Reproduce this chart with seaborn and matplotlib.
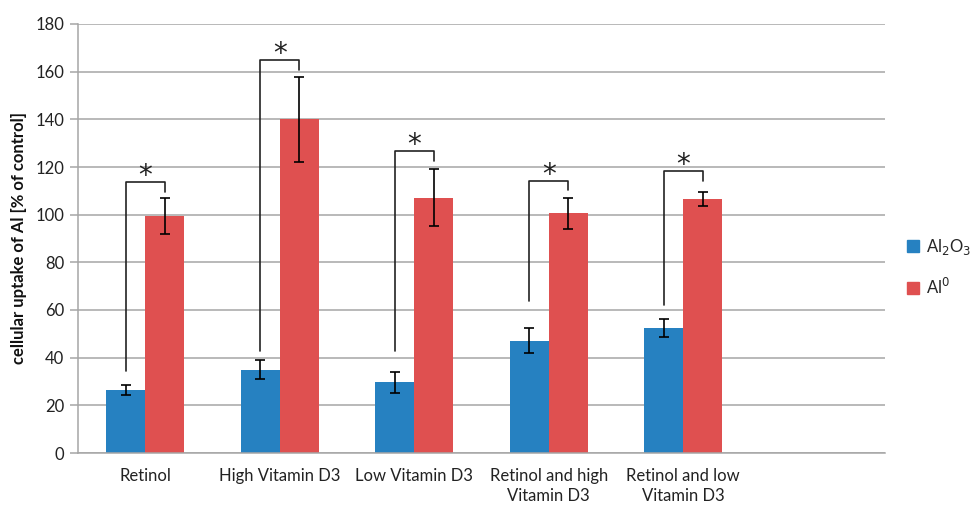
import matplotlib
matplotlib.use("Agg")
import matplotlib.pyplot as plt
import seaborn as sns
import pandas as pd
import numpy as np
from matplotlib.lines import Line2D

categories = ["Retinol", "High Vitamin D3", "Low Vitamin D3",
              "Retinol and high\nVitamin D3", "Retinol and low\nVitamin D3"]
series = ["Al$_2$O$_3$", "Al$^0$"]
al2o3_values = [26.5, 35.0, 29.6, 47.2, 52.4]
al2o3_err = [2.0, 4.0, 4.3, 5.2, 3.8]
al0_values = [99.4, 140.0, 107.1, 100.6, 106.6]
al0_err = [7.5, 17.8, 12.0, 6.5, 2.9]
# significance brackets: top, left foot, right foot (in % of control)
bracket_top = [113.8, 165.0, 126.7, 114.3, 118.5]
bracket_left = [34.4, 42.8, 42.8, 63.8, 62.1]
bracket_right = [109.6, 160.7, 122.5, 110.4, 114.1]

colors = ["#2681C1", "#DF5050"]

sns.set_style("white")
plt.rcParams['font.family'] = ['Lato', 'DejaVu Sans']

df = pd.DataFrame({
    "category": categories * 2,
    "series": [series[0]] * 5 + [series[1]] * 5,
    "value": al2o3_values + al0_values,
})

fig = plt.figure(figsize=(9.73, 5.05), dpi=100)
ax = fig.add_axes([78 / 973, 1 - 453 / 505, (885 - 78) / 973, (453 - 24) / 505])

sns.barplot(data=df, x="category", y="value", hue="series", order=categories,
            hue_order=series, palette=colors, width=0.58, errorbar=None,
            saturation=1, ax=ax, legend=False, zorder=2, linewidth=0)

# error bars using bar patch positions
patches = [p for p in ax.patches if p.get_height() > 0]
patches.sort(key=lambda p: p.get_x())
xs = [p.get_x() + p.get_width() / 2 for p in patches]
blue_x = xs[0::2]
red_x = xs[1::2]
ax.errorbar(blue_x, al2o3_values, yerr=al2o3_err, fmt="none", ecolor="black",
            elinewidth=1.2, capsize=3.5, capthick=1.2, zorder=3)
ax.errorbar(red_x, al0_values, yerr=al0_err, fmt="none", ecolor="black",
            elinewidth=1.2, capsize=3.5, capthick=1.2, zorder=3)

for bx, rx, t, l, r in zip(blue_x, red_x, bracket_top, bracket_left, bracket_right):
    ax.plot([bx, bx, rx, rx], [l, t, t, r], color="#222222", lw=1.2, zorder=4)
    ax.text((bx + rx) / 2, t - 3.5, "*", ha="center", va="bottom",
            fontsize=20, color="#222222", zorder=4, family="DejaVu Sans")

ax.set_xlim(-0.5, 5.5)
ax.set_ylim(0, 180)
ax.set_yticks(np.arange(0, 181, 20))
ax.yaxis.grid(True, color="#A6A6A6", lw=1.1, zorder=0)
ax.set_axisbelow(True)
for s in ["top", "right"]:
    ax.spines[s].set_visible(False)
ax.spines["left"].set_color("#A6A6A6")
ax.spines["bottom"].set_color("#A6A6A6")
ax.spines["left"].set_linewidth(1.1)
ax.spines["bottom"].set_linewidth(1.1)
ax.tick_params(axis="y", which="major", left=True, length=6, width=1.1,
               color="#A6A6A6", labelsize=12, pad=4, labelcolor="#222222")
ax.tick_params(axis="x", bottom=False, labelsize=12, pad=7, labelcolor="#222222")
for lab in ax.get_xticklabels():
    lab.set_linespacing(1.35)
ax.set_xlabel("")
ax.set_ylabel("cellular uptake of Al [% of control]", fontsize=12,
              fontweight="bold", color="#111111", labelpad=6)

handles = [Line2D([0], [0], marker="s", linestyle="none", markersize=8,
                  markerfacecolor=c, markeredgecolor=c) for c in colors]
fig.legend(handles, series, loc="upper left", bbox_to_anchor=(898 / 973, 1 - 230 / 505),
           frameon=False, fontsize=12, labelspacing=1.2, handletextpad=0.3,
           handlelength=1.0, borderaxespad=0)

fig.savefig("out.png", dpi=100)
